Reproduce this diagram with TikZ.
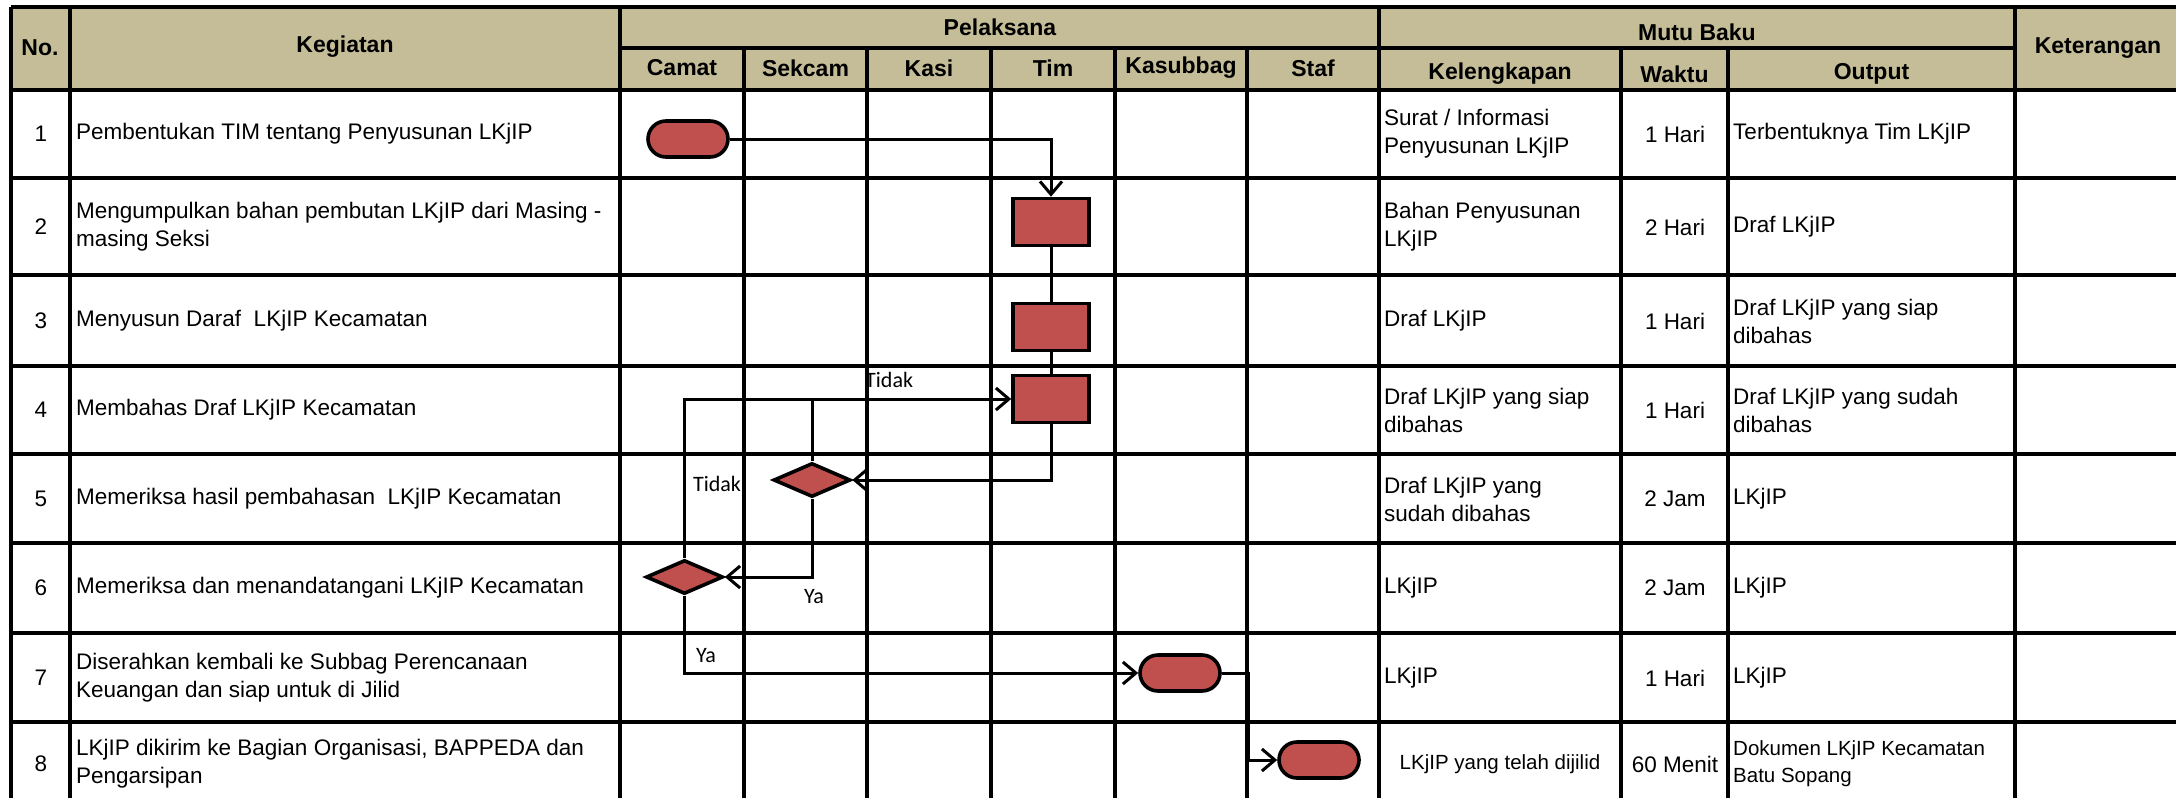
\documentclass[tikz,border=0pt]{standalone}
\usepackage{fontspec}
\setmainfont{Liberation Sans}
\newfontfamily\calfont{Carlito}
\usetikzlibrary{shapes.geometric,arrows.meta}
\definecolor{hdrtan}{HTML}{C4BD97}
\definecolor{boxred}{HTML}{C0504D}
\begin{document}
\begin{tikzpicture}[x=1pt,y=-1pt,
  grid/.style={line width=3.4pt},
  hdr/.style={inner sep=0, font=\bfseries\fontsize{23}{27}\selectfont},
  txt/.style={anchor=west, align=left, inner sep=0, font=\fontsize{22.5}{28}\selectfont},
  ctxt/.style={align=center, inner sep=0, font=\fontsize{22.5}{28}\selectfont},
  smalltxt/.style={align=left, inner sep=0, font=\fontsize{20.5}{27}\selectfont},
  shp/.style={draw, line width=3.6pt, fill=boxred, inner sep=0},
  term/.style={shp, rectangle, rounded corners=18pt, minimum width=80pt, minimum height=36pt},
  proc/.style={shp, rectangle, minimum width=76pt, minimum height=47pt},
  dec/.style={shp, diamond, minimum width=77pt, minimum height=34pt},
  conn/.style={line width=3pt},
  arr/.style={conn, -{Straight Barb[length=13pt,width=22pt]}},
  lab/.style={inner sep=0, font=\calfont\fontsize{22}{26}\selectfont}
]
\useasboundingbox (0,0) rectangle (2176,798);
% header background
\fill[hdrtan] (11,7) rectangle (2176,90);
% grid
\draw[grid] (11,7) -- (2176,7);
\draw[grid] (620,48) -- (2015,48);
\foreach \y in {90,178,275,366,454,543,633,722} \draw[grid] (11,\y) -- (2176,\y);
\foreach \x in {11,70,620,1379,2015} \draw[grid] (\x,7) -- (\x,798);
\foreach \x in {744,867,991,1115,1247,1621,1728} \draw[grid] (\x,48) -- (\x,798);

% header texts
\node[hdr] (hno) at (40,48) {No.};
\node[hdr] (hkeg) at (345,47) {Kegiatan};
\node[hdr] (hpel) at (1000,27) {Pelaksana};
\node[hdr] (hcam) at (682,68) {Camat};
\node[hdr] (hsek) at (805.5,68) {Sekcam};
\node[hdr] (hkas) at (929,68) {Kasi};
\node[hdr] (htim) at (1053,68) {Tim};
\node[hdr] (hksb) at (1181,68) {Kasubbag};
\node[hdr] (hsta) at (1313,68) {Staf};
\node[hdr] (hmut) at (1697,32) {Mutu Baku};
\node[hdr] (hkel) at (1500,74) {Kelengkapan};
\node[hdr] (hwak) at (1674.5,74) {Waktu};
\node[hdr] (hout) at (1871.5,74) {Output};
\node[hdr] (hket) at (2098,48) {Keterangan};

% numbers
\node[ctxt] (n1) at (41,134) {1};
\node[ctxt] (n2) at (41,227) {2};
\node[ctxt] (n3) at (41,321) {3};
\node[ctxt] (n4) at (41,410) {4};
\node[ctxt] (n5) at (41,499) {5};
\node[ctxt] (n6) at (41,588) {6};
\node[ctxt] (n7) at (41,678) {7};
\node[ctxt] (n8) at (41,764) {8};

% kegiatan
\node[txt] (k1) at (76,134) {Pembentukan TIM tentang Penyusunan LKjIP};
\node[txt] (k2) at (76,227) {Mengumpulkan bahan pembutan LKjIP dari Masing -\\masing Seksi};
\node[txt] (k3) at (76,321) {Menyusun Daraf\ \ LKjIP Kecamatan};
\node[txt] (k4) at (76,410) {Membahas Draf LKjIP Kecamatan};
\node[txt] (k5) at (76,499) {Memeriksa hasil pembahasan\ \ LKjIP Kecamatan};
\node[txt] (k6) at (76,588) {Memeriksa dan menandatangani LKjIP Kecamatan};
\node[txt] (k7) at (76,678) {Diserahkan kembali ke Subbag Perencanaan\\Keuangan dan siap untuk di Jilid};
\node[txt] (k8) at (76,764) {LKjIP dikirim ke Bagian Organisasi, BAPPEDA dan\\Pengarsipan};

% kelengkapan
\node[txt] (l1) at (1384,134) {Surat / Informasi\\Penyusunan LKjIP};
\node[txt] (l2) at (1384,227) {Bahan Penyusunan\\LKjIP};
\node[txt] (l3) at (1384,321) {Draf LKjIP};
\node[txt] (l4) at (1384,410) {Draf LKjIP yang siap\\dibahas};
\node[txt] (l5) at (1384,499) {Draf LKjIP yang\\sudah dibahas};
\node[txt] (l6) at (1384,588) {LKjIP};
\node[txt] (l7) at (1384,678) {LKjIP};
\node[smalltxt] (l8) at (1500,764) {LKjIP yang telah dijilid};

% waktu
\node[ctxt] (w1) at (1675,134) {1 Hari};
\node[ctxt] (w2) at (1675,227) {2 Hari};
\node[ctxt] (w3) at (1675,321) {1 Hari};
\node[ctxt] (w4) at (1675,410) {1 Hari};
\node[ctxt] (w5) at (1675,499) {2 Jam};
\node[ctxt] (w6) at (1675,588) {2 Jam};
\node[ctxt] (w7) at (1675,678) {1 Hari};
\node[ctxt] (w8) at (1675,764) {60 Menit};

% output
\node[txt] (o1) at (1733,134) {Terbentuknya Tim LKjIP};
\node[txt] (o2) at (1733,227) {Draf LKjIP};
\node[txt] (o3) at (1733,321) {Draf LKjIP yang siap\\dibahas};
\node[txt] (o4) at (1733,410) {Draf LKjIP yang sudah\\dibahas};
\node[txt] (o5) at (1733,499) {LKjIP};
\node[txt] (o6) at (1733,588) {LKjIP};
\node[txt] (o7) at (1733,678) {LKjIP};
\node[smalltxt, anchor=west] (o8) at (1733,764) {Dokumen LKjIP Kecamatan\\Batu Sopang};

% flow shapes
\node[term] (t1) at (688,139) {};
\node[proc] (r1) at (1051,222) {};
\node[proc] (r2) at (1051,327) {};
\node[proc] (r3) at (1051,399) {};
\node[dec] (d1) at (812,480) {};
\node[dec] (d2) at (684.5,577) {};
\node[term] (t2) at (1180,673) {};
\node[term] (t3) at (1319,760) {};
\coordinate (j1) at (1248,673);

% connectors
\draw[arr] (t1.east) -| (r1.north);
\draw[conn] (r1.south) -- (r2.north);
\draw[conn] (r2.south) -- (r3.north);
\draw[arr] (r3.south) |- (d1.east);
\draw[arr] (d1.south) |- (d2.east);
\draw[conn] (d1.north) -- (d1.north |- r3.west);
\draw[arr] (d2.north) |- (r3.west);
\draw[arr] (d2.south) |- (t2.west);
\draw[arr] (t2.east) -- (j1) |- (t3.west);

% labels
\node[lab, anchor=west] (lt1) at (865,380) {Tidak};
\node[lab] (lt2) at (717,484) {Tidak};
\node[lab] (ly1) at (814,597) {Ya};
\node[lab] (ly2) at (706,656) {Ya};
\end{tikzpicture}
\end{document}
